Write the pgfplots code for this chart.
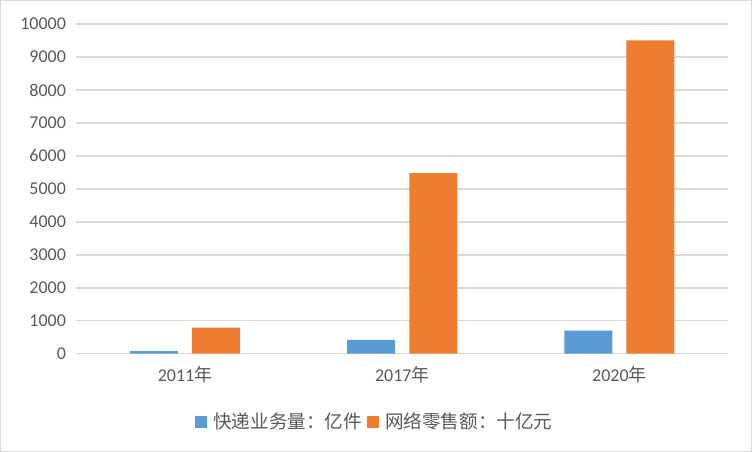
\documentclass[border=0pt]{standalone}
\usepackage{fontspec}
\setmainfont{Carlito}
\newfontfamily\cjk{Noto Sans CJK SC}
\usepackage{pgfplots}
\pgfplotsset{compat=1.18}
\definecolor{xblue}{RGB}{91,155,213}
\definecolor{xorange}{RGB}{237,125,49}
\definecolor{txtgray}{RGB}{89,89,89}
\definecolor{gridgray}{RGB}{217,217,217}

\begin{document}
\begin{tikzpicture}[x=1pt,y=1pt]
\useasboundingbox (0,0) rectangle (752,452);
\draw[gridgray, line width=1pt] (0.5,0.5) rectangle (751.5,451.5);
\begin{axis}[
    at={(76.5pt,98.3pt)}, anchor=south west,
    scale only axis, width=651.5pt, height=329.7pt,
    xmin=-0.5, xmax=2.5, ymin=0, ymax=10000,
    xtick={0,1,2},
    xticklabels={2011{\cjk 年},2017{\cjk 年},2020{\cjk 年}},
    ytick={0,1000,...,10000},
    scaled y ticks=false,
    /pgf/number format/assume math mode=true,
    /pgf/number format/1000 sep={},
    axis x line*=bottom, axis y line*=left,
    x axis line style={draw=gridgray, line width=1.5pt, -},
    y axis line style={draw=none},
    major tick length=0pt,
    ymajorgrids, grid style={gridgray, line width=1.5pt},
    ticklabel style={font=\fontsize{18}{20}\selectfont, text=txtgray},
    yticklabel style={xshift=-7pt},
    xticklabel style={yshift=-9pt},
    clip=false,
    legend style={draw=none, at={(0.458,-0.206)}, anchor=center,
        font=\fontsize{18.6}{20}\selectfont\cjk, text=txtgray,
        legend columns=2,
        /tikz/every odd column/.append style={column sep=4pt},
        /tikz/every even column/.append style={column sep=3pt}},
    legend image code/.code={\fill[#1] (0pt,-6pt) rectangle (12pt,6pt);},
]
\addplot[ybar, bar width=0.221, bar shift=-0.143, fill=xblue, draw=none]
    coordinates {(0,80) (1,420) (2,700)};
\addplot[ybar, bar width=0.221, bar shift=0.143, fill=xorange, draw=none]
    coordinates {(0,790) (1,5480) (2,9500)};
\legend{快递业务量：亿件,网络零售额：十亿元}
\end{axis}
\end{tikzpicture}
\end{document}
